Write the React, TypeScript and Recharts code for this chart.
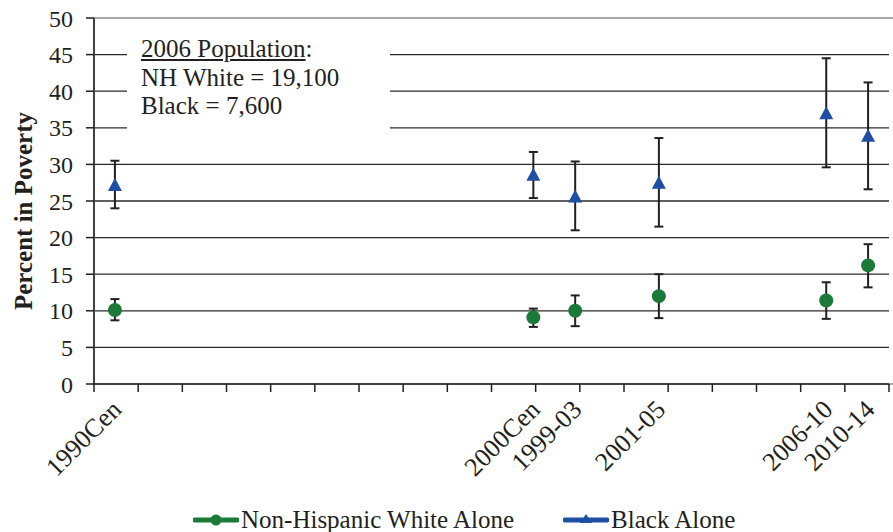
import React from 'react';
import { ComposedChart, Line, XAxis, YAxis, CartesianGrid, ErrorBar, Legend, ReferenceArea } from 'recharts';

// 19 equal slots along the x axis; only some carry an estimate
const SLOTS = ['1990Cen', '', '', '', '', '', '', '', '', '', '2000Cen', '1999-03', '', '2001-05', '', '', '', '2006-10', '2010-14'];
const PERIODS = ['1990Cen', '2000Cen', '1999-03', '2001-05', '2006-10', '2010-14'];

const WHITE = [10.1, 9.1, 10.0, 12.0, 11.4, 16.2];
const WHITE_LO = [8.7, 7.8, 7.9, 9.0, 8.9, 13.2];
const WHITE_HI = [11.6, 10.3, 12.1, 15.0, 13.9, 19.1];

const BLACK = [27.2, 28.6, 25.6, 27.5, 37.0, 33.9];
const BLACK_LO = [24.0, 25.4, 21.0, 21.5, 29.6, 26.6];
const BLACK_HI = [30.5, 31.7, 30.4, 33.6, 44.5, 41.2];

const Y_TICKS = [0, 5, 10, 15, 20, 25, 30, 35, 40, 45, 50];
const SLOT_EDGES = [...SLOTS.map((_, i) => i), SLOTS.length];

const GREEN = '#1b7a37';
const BLUE = '#1f4fa3';
const INK = '#231f20';
const SERIF = '"Liberation Serif", "Times New Roman", serif';

const data = SLOTS.map((label, i) => {
  const k = label ? PERIODS.indexOf(label) : -1;
  return {
    slot: i,
    white: k >= 0 ? WHITE[k] : null,
    whiteLo: k >= 0 ? WHITE_LO[k] : null,
    whiteHi: k >= 0 ? WHITE_HI[k] : null,
    black: k >= 0 ? BLACK[k] : null,
    blackLo: k >= 0 ? BLACK_LO[k] : null,
    blackHi: k >= 0 ? BLACK_HI[k] : null,
  };
});

const whiteErr = (d: any) => (d.white == null ? undefined : [d.white - d.whiteLo, d.whiteHi - d.white]);
const blackErr = (d: any) => (d.black == null ? undefined : [d.black - d.blackLo, d.blackHi - d.black]);

const CircleDot = (props: any) => {
  const { cx, cy, index } = props;
  if (cx == null || cy == null || props.value == null) return <g key={`c${index}`} />;
  return <circle key={`c${index}`} cx={cx} cy={cy} r={7} fill={GREEN} />;
};

const TriangleDot = (props: any) => {
  const { cx, cy, index } = props;
  if (cx == null || cy == null || props.value == null) return <g key={`t${index}`} />;
  const pts = `${cx},${cy - 7} ${cx + 7},${cy + 6} ${cx - 7},${cy + 6}`;
  return <polygon key={`t${index}`} points={pts} fill={BLUE} />;
};

const SlotTick = (props: any) => {
  const { x, y, payload } = props;
  const text = SLOTS[payload.value];
  if (!text) return <g />;
  const tx = x + 8;
  const ty = y + 18;
  return (
    <text x={tx} y={ty} transform={`rotate(-45, ${tx}, ${ty})`} textAnchor="end"
      fontFamily={SERIF} fontSize={26} fill={INK}>
      {text}
    </text>
  );
};

const NoTick = () => <g />;

const YLabel = (props: any) => {
  const { viewBox } = props;
  const x = viewBox.x + 32;
  const y = viewBox.y + viewBox.height / 2 + 10;
  return (
    <text x={x} y={y} transform={`rotate(-90, ${x}, ${y})`} textAnchor="middle"
      fontFamily={SERIF} fontSize={25} fontWeight="bold" fill={INK}>
      Percent in Poverty
    </text>
  );
};

const LEGEND_ITEMS = [
  { name: 'Non-Hispanic White Alone', color: GREEN, shape: 'circle' },
  { name: 'Black Alone', color: BLUE, shape: 'triangle' },
];

const LegendContent = () => (
  <div style={{ display: 'flex', alignItems: 'center', height: 28, paddingLeft: 193, paddingTop: 3, boxSizing: 'border-box', fontFamily: SERIF, fontSize: 25, color: INK }}>
    {LEGEND_ITEMS.map((it, i) => (
      <div key={it.name} style={{ display: 'flex', alignItems: 'center', marginRight: i === 0 ? 49 : 0 }}>
        <svg width={46} height={16} style={{ marginRight: 2 }}>
          <line x1={2} y1={8} x2={44} y2={8} stroke={it.color} strokeWidth={5} strokeLinecap="round" />
          {it.shape === 'circle'
            ? <circle cx={23} cy={8} r={5.5} fill={it.color} />
            : <polygon points="23,2 29,11 17,11" fill={it.color} />}
        </svg>
        <span>{it.name}</span>
      </div>
    ))}
  </div>
);

export default function App() {
  return (
    <div style={{ position: 'absolute', left: 0, top: 0, width: 893, height: 532, background: '#fff' }}>
      <ComposedChart width={893} height={532} data={data} margin={{ top: 18, right: 4, left: 0, bottom: 0 }}>
        <CartesianGrid xAxisId="slot" vertical={false} stroke="#2a2a2a" strokeWidth={1.3} />
        <ReferenceArea xAxisId="edge" x1={0} x2={SLOTS.length} y1={0} y2={50}
          fill="none" stroke="#a6a6a6" strokeWidth={2} ifOverflow="visible" />
        <XAxis xAxisId="slot" dataKey="slot" type="category" scale="band" interval={0}
          axisLine={false} tickLine={false} height={119} tick={SlotTick} />
        <XAxis xAxisId="edge" type="number" domain={[0, SLOTS.length]} ticks={SLOT_EDGES} interval={0}
          height={1} tick={NoTick} tickSize={8} stroke={INK} strokeWidth={1.5} />
        <YAxis domain={[0, 50]} ticks={Y_TICKS} width={94} tickSize={8} tickMargin={13}
          stroke={INK} strokeWidth={1.5} interval={0}
          tick={{ fontFamily: SERIF, fontSize: 24, fill: INK }} label={<YLabel />} />
        <Legend verticalAlign="bottom" content={<LegendContent />} />
        <Line xAxisId="slot" dataKey="white" name="Non-Hispanic White Alone" stroke="none"
          dot={CircleDot} activeDot={false} isAnimationActive={false}>
          <ErrorBar dataKey={whiteErr} width={4.5} stroke={INK} strokeWidth={2} direction="y" />
        </Line>
        <Line xAxisId="slot" dataKey="black" name="Black Alone" stroke="none"
          dot={TriangleDot} activeDot={false} isAnimationActive={false}>
          <ErrorBar dataKey={blackErr} width={4.5} stroke={INK} strokeWidth={2} direction="y" />
        </Line>
      </ComposedChart>
      <div style={{ position: 'absolute', left: 127, top: 35, width: 263, height: 111, background: '#fff',
        boxSizing: 'border-box', paddingLeft: 14, fontFamily: SERIF, fontSize: 25, lineHeight: '28.5px', color: INK }}>
        <div><span style={{ textDecoration: 'underline' }}>2006 Population</span>:</div>
        <div>NH White = 19,100</div>
        <div>Black = 7,600</div>
      </div>
    </div>
  );
}
